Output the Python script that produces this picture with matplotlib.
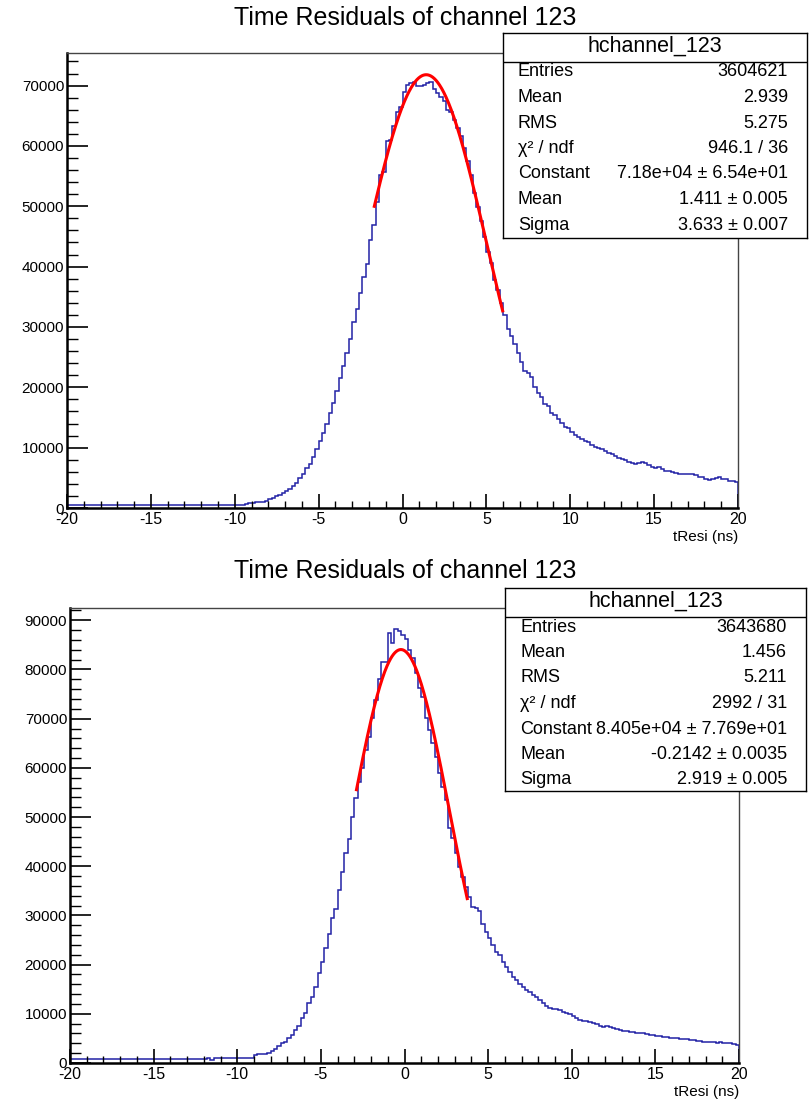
import numpy as np
import matplotlib.pyplot as plt
from matplotlib.ticker import MultipleLocator

plt.rcParams['font.family'] = ['Liberation Sans', 'DejaVu Sans']
plt.rcParams['axes.unicode_minus'] = False

# bin edges: 200 bins of 0.2 ns from -20 to 20
x_lo, x_hi, n_bins = -20.0, 20.0, 200

# ---- top histogram (bin contents) ----
top_counts = (
    [550] * 52 +
    [560, 720, 760, 880, 920, 960, 1050, 1100,
     1440, 1710, 1990, 2210, 2540, 2820, 3200, 3650, 4200, 4920,
     5580, 6580, 7240, 8510, 9730, 11170, 12490, 13930, 15810, 17360,
     19460, 21500, 23550, 25760, 28080, 30900, 32940, 35700, 38250, 40460,
     44440, 46920, 50790, 55210, 55600, 60850, 61000, 63230, 65600, 66500,
     68860, 70130, 70400, 70570, 69970, 69970, 70130, 70400, 70620, 69400,
     68750, 68030, 67370, 65990, 65550, 64330, 62950, 61570, 59640, 57430,
     55210, 52170, 49960, 47480, 44990, 42500, 40570, 37800, 36150, 33940,
     32000] +
    [29680, 28520, 27140, 25760, 24260, 22770, 22440, 21780, 20120, 19120,
     18460, 17240, 16910, 15810, 15420, 14700, 14150, 13490, 13210, 12660,
     12100, 11720, 11440, 11160, 10940, 10450, 10170, 9890, 9730, 9510,
     9180, 8950, 8620, 8350, 8180, 7960, 7630, 7410, 7240, 7410,
     7630, 7410, 7070, 6850, 6690, 6740, 6410, 6190, 6080, 5970,
     5750, 5580, 5580, 5580, 5580, 5580, 5470, 5200, 5080, 4810,
     4640, 4750, 4970, 5200, 4860, 4750, 4530, 4420, 4370]
)

# ---- bottom histogram ----
bot_counts = (
    [750] * 41 + [1050, 700] + [1100] * 12 +
    [1560, 1760, 1760, 1900, 2100, 2500, 2850, 3450, 4000, 4340,
     5010, 5690, 6710, 7520, 9080, 10230, 12130, 13480, 15510, 18220,
     20600, 23310, 26150, 29400, 31230, 35160, 38890, 42610, 45460, 50070,
     53790, 57180, 59890, 63620, 66330, 70050, 73780, 78050, 81570, 81570] +
    [87330, 85300, 88140, 87870, 86990, 86110, 83940, 82250, 79200, 76150,
     74460, 70050, 67680, 64970, 62260, 58870, 56160, 53450, 47690, 45660,
     42610, 39900, 37870, 35840, 33810, 31770] +
    [31570, 30900, 28250, 26690, 25340, 23980, 22630, 21950, 20600, 19440,
     18560, 17550, 16870, 16060, 15380, 14840, 14360, 13820, 13480, 12800,
     12260, 11590, 11180, 11040, 10910, 10770, 10430, 10090, 9890, 9550,
     9080, 8740, 8600, 8540, 8400, 8200, 7930, 7590, 7380, 7520,
     7250, 7110, 6840, 6710, 6570, 6500, 6370, 6230, 6100, 6030,
     6030, 5890, 5760, 5690, 5560, 5490, 5350, 5220, 5080, 5010,
     5010, 4950, 4880, 4810, 4670, 4610, 4540, 4400, 4340, 4270,
     4270, 4200, 4130, 4200, 4130, 4070, 4000, 3860, 3660]
)

# gaussian fit results (from the stat boxes) and fit ranges
top_fit = dict(const=7.18e4, mean=1.411, sigma=3.633, lo=-1.68, hi=5.97)
bot_fit = dict(const=8.405e4, mean=-0.2142, sigma=2.919, lo=-2.87, hi=3.75)

top_stats = [("Entries", "3604621"), ("Mean", "2.939"), ("RMS", "5.275"),
             ("χ² / ndf", "946.1 / 36"), ("Constant", "7.18e+04 ± 6.54e+01"),
             ("Mean", "1.411 ± 0.005"), ("Sigma", "3.633 ± 0.007")]
bot_stats = [("Entries", "3643680"), ("Mean", "1.456"), ("RMS", "5.211"),
             ("χ² / ndf", "2992 / 31"), ("Constant", "8.405e+04 ± 7.769e+01"),
             ("Mean", "-0.2142 ± 0.0035"), ("Sigma", "2.919 ± 0.005")]

title = "Time Residuals of channel 123"
hist_name = "hchannel_123"
x_label = "tResi (ns)"

W, H = 809, 1109
fig = plt.figure(figsize=(W / 100, H / 100), dpi=100)


def px_rect(left, top, right, bottom):
    # pixel box -> figure fraction rect
    return [left / W, 1 - bottom / H, (right - left) / W, (bottom - top) / H]


def draw_panel(rect, counts, fit, ymax, title_y):
    ax = fig.add_axes(rect)
    edges = np.linspace(x_lo, x_hi, n_bins + 1)
    counts = np.asarray(counts, dtype=float)
    assert len(counts) == n_bins
    ax.stairs(counts, edges, baseline=0, color='#2222a6', lw=1.1)

    xf = np.linspace(fit['lo'], fit['hi'], 300)
    yf = fit['const'] * np.exp(-0.5 * ((xf - fit['mean']) / fit['sigma']) ** 2)
    ax.plot(xf, yf, color='red', lw=2.2)

    ax.set_xlim(x_lo, x_hi)
    ax.set_ylim(0, ymax)
    ax.xaxis.set_major_locator(MultipleLocator(5))
    ax.xaxis.set_minor_locator(MultipleLocator(1))
    ax.yaxis.set_major_locator(MultipleLocator(10000))
    ax.yaxis.set_minor_locator(MultipleLocator(2000))
    ax.tick_params(axis='x', which='major', direction='in', length=10, width=1.2,
                   labelsize=11.5, pad=3)
    ax.tick_params(axis='x', which='minor', direction='in', length=5, width=1.0)
    ax.tick_params(axis='y', which='major', direction='in', length=15, width=1.2,
                   labelsize=11, pad=2)
    ax.tick_params(axis='y', which='minor', direction='in', length=8, width=1.0)
    for s in ['left', 'bottom']:
        ax.spines[s].set_linewidth(1.8)
    for s in ['top', 'right']:
        ax.spines[s].set_linewidth(1.0)
        ax.spines[s].set_color('#444444')
    ax.set_xlabel(x_label, fontsize=11, loc='right', labelpad=2)

    fig.text(405 / W, 1 - title_y / H, title, ha='center', va='center', fontsize=18)
    return ax


def draw_stats(left, top, right, bottom, rows):
    box = fig.add_axes(px_rect(left, top, right, bottom))
    box.set_xlim(0, right - left)
    box.set_ylim(bottom - top, 0)
    box.set_xticks([])
    box.set_yticks([])
    for s in box.spines.values():
        s.set_linewidth(1.0)
    box.axhline(28.5, color='black', lw=1.0)
    box.text((right - left) / 2, 13, hist_name, ha='center', va='center', fontsize=15.5)
    for i, (lab, val) in enumerate(rows):
        y = 39 + 25.5 * i
        box.text(15, y, lab, ha='left', va='center', fontsize=13)
        box.text(right - left - 19, y, val, ha='right', va='center', fontsize=13)


draw_panel(px_rect(67, 53, 738, 508), top_counts, top_fit, 75400, 18)
draw_stats(503, 33, 807, 238, top_stats)

draw_panel(px_rect(70, 608, 739, 1063), bot_counts, bot_fit, 92500, 571)
draw_stats(505, 588, 806, 791, bot_stats)

fig.savefig('out.png', dpi=100)
